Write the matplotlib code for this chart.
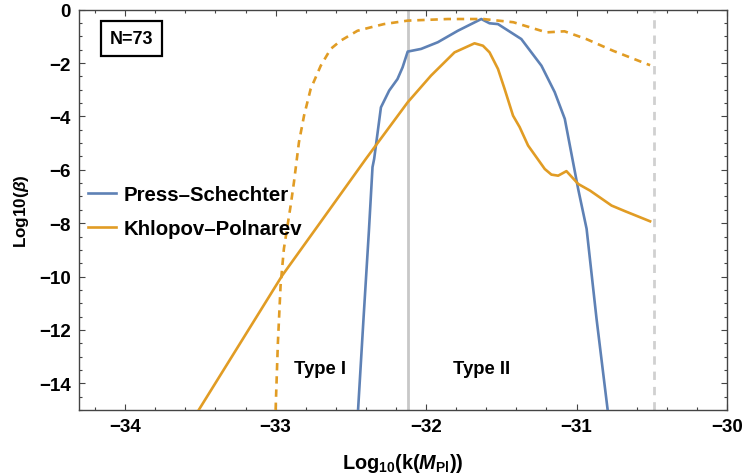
import matplotlib
matplotlib.use("Agg")
import matplotlib.pyplot as plt
from matplotlib.ticker import MultipleLocator, FuncFormatter

plt.rcParams['font.family'] = ['Liberation Sans', 'DejaVu Sans']
plt.rcParams['font.weight'] = 'bold'
plt.rcParams['mathtext.fontset'] = 'custom'
plt.rcParams['mathtext.rm'] = 'Liberation Sans:bold'
plt.rcParams['mathtext.bf'] = 'Liberation Sans:bold'
plt.rcParams['mathtext.it'] = 'Liberation Sans:italic:bold'

# Press-Schechter (blue)
ps_x = [-32.452, -32.416, -32.38, -32.356, -32.345, -32.30, -32.245, -32.19, -32.156, -32.122,
        -32.033, -31.922, -31.789, -31.633, -31.578, -31.522, -31.367, -31.233, -31.145, -31.078,
        -30.989, -30.933, -30.867, -30.793]
ps_y = [-15.0, -11.6, -8.3, -5.9, -5.59, -3.66, -3.03, -2.6, -2.16, -1.57,
        -1.47, -1.22, -0.79, -0.35, -0.51, -0.54, -1.10, -2.1, -3.09, -4.09,
        -6.72, -8.21, -11.58, -15.0]

# Khlopov-Polnarev (orange, solid)
kp_x = [-33.511, -33.25, -32.956, -32.7, -32.40, -32.122, -31.967, -31.811, -31.678, -31.622,
        -31.578, -31.522, -31.478, -31.422, -31.378, -31.322, -31.211, -31.167, -31.122, -31.067,
        -30.989, -30.91, -30.767, -30.678, -30.511]
kp_y = [-15.0, -12.63, -9.96, -7.95, -5.59, -3.47, -2.47, -1.60, -1.26, -1.35,
        -1.60, -2.22, -2.97, -3.97, -4.40, -5.09, -5.97, -6.18, -6.22, -6.05,
        -6.53, -6.78, -7.34, -7.55, -7.93]

# Khlopov-Polnarev variant (orange, dashed)
kpd_x = [-33.0, -32.985, -32.967, -32.945, -32.90, -32.878, -32.845, -32.811, -32.767, -32.70,
         -32.634, -32.567, -32.456, -32.367, -32.28, -32.122, -31.855, -31.62, -31.42, -31.20,
         -31.08, -30.935, -30.757, -30.535, -30.511]
kpd_y = [-15.0, -12.5, -10.34, -8.96, -7.34, -6.46, -4.97, -3.97, -2.97, -2.10,
         -1.47, -1.16, -0.79, -0.66, -0.54, -0.41, -0.35, -0.35, -0.47, -0.85,
         -0.81, -1.10, -1.54, -2.03, -2.08]

vline_solid = -32.122
vline_dashed = -30.485
xlim = (-34.307, -30.0)
ylim = (-15.0, 0.0)
xticks = [-34, -33, -32, -31, -30]
yticks = [0, -2, -4, -6, -8, -10, -12, -14]

blue = '#5E81B5'
orange = '#E19C24'

fig = plt.figure(figsize=(7.45, 4.77), dpi=100)
ax = fig.add_axes([0.106, 0.1384, 0.8698, 0.8392])

ax.axvline(vline_solid, color='#C8C8C8', lw=2.0, zorder=1)
ax.axvline(vline_dashed, color='#D0D0D0', lw=2.0, ls=(0, (3, 2.5)), zorder=1)

lw = 1.9
ax.plot(ps_x, ps_y, color=blue, lw=lw, label='Press\u2013Schechter', zorder=3)
ax.plot(kp_x, kp_y, color=orange, lw=lw, label='Khlopov\u2013Polnarev', zorder=3)
ax.plot(kpd_x, kpd_y, color=orange, lw=lw, ls=(0, (2.8, 2.2)), zorder=3)

ax.set_xlim(*xlim)
ax.set_ylim(*ylim)
ax.set_xticks(xticks)
ax.set_yticks(yticks)
ax.xaxis.set_minor_locator(MultipleLocator(0.2))
ax.yaxis.set_minor_locator(MultipleLocator(0.5))
fmt = FuncFormatter(lambda v, p: ('\u2212' if v < 0 else '') + '%d' % abs(round(v)))
ax.xaxis.set_major_formatter(fmt)
ax.yaxis.set_major_formatter(fmt)

frame_c = '#444444'
for s in ax.spines.values():
    s.set_color(frame_c)
    s.set_linewidth(1.0)
ax.tick_params(which='both', direction='in', top=True, right=True, color=frame_c, width=0.8)
ax.tick_params(which='major', length=4.5, labelsize=13.5, pad=6)
ax.tick_params(which='minor', length=2.5)

ax.set_xlabel(r'Log$_{10}$(k($M_{\mathrm{Pl}}$))', fontsize=14.3, fontweight='bold', labelpad=11)
ax.set_ylabel(r'Log10($\beta$)', fontsize=12.3, fontweight='bold', labelpad=6)

ax.text(0.0813, 0.929, 'N=73', transform=ax.transAxes, ha='center', va='center',
        fontsize=13, fontweight='bold',
        bbox=dict(boxstyle='square,pad=0.5', fc='white', ec='black', lw=1.6))

ax.text(-32.706, -13.45, 'Type I', ha='center', va='center', fontsize=13.3, fontweight='bold')
ax.text(-31.628, -13.45, 'Type II', ha='center', va='center', fontsize=13.3, fontweight='bold')

leg = ax.legend(loc='center left', bbox_to_anchor=(0.0139, 0.495), frameon=False,
                borderpad=0, borderaxespad=0, handlelength=1.35,
                handletextpad=0.4, labelspacing=0.75,
                prop={'weight': 'bold', 'size': 14.7})

fig.savefig('out.png', dpi=100)
